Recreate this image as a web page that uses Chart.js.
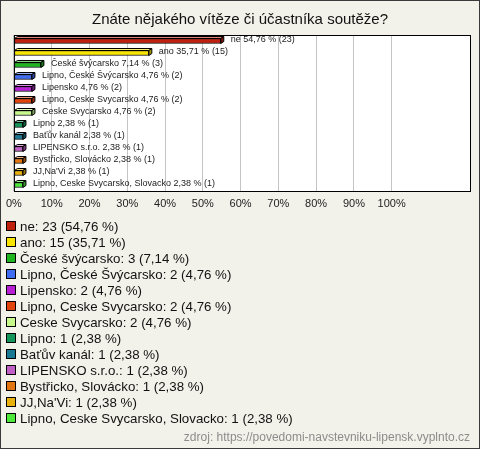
<!DOCTYPE html>
<html>
<head>
<meta charset="utf-8">
<script src="https://cdn.jsdelivr.net/npm/chart.js@4.4.1/dist/chart.umd.min.js"></script>
<style>
    html, body { margin: 0; padding: 0; background: #f3f2ea; }
    #wrap { width: 480px; height: 449px; }
</style>
</head>
<body>
<div id="wrap"><canvas id="chart" width="480" height="449"></canvas></div>
<script>
// data
const titleText = 'Znáte nějakého vítěze či účastníka soutěže?';
const sourceText = 'zdroj: https://povedomi-navstevniku-lipensk.vyplnto.cz';
const categories = [
    'ne', 'ano', 'České švýcarsko', 'Lipno, České Švýcarsko', 'Lipensko',
    'Lipno, Ceske Svycarsko', 'Ceske Svycarsko', 'Lipno', 'Baťův kanál',
    'LIPENSKO s.r.o.', 'Bystřicko, Slovácko', 'JJ,Na\'Vi', 'Lipno, Ceske Svycarsko, Slovacko'
];
const counts = [23, 15, 3, 2, 2, 2, 2, 1, 1, 1, 1, 1, 1];
const percents = [54.76, 35.71, 7.14, 4.76, 4.76, 4.76, 4.76, 2.38, 2.38, 2.38, 2.38, 2.38, 2.38];
const colors = [
    '#c0200e', '#f7e500', '#1fb51f', '#3f6cf0', '#b81fd4', '#e2440c', '#c6f88c',
    '#139659', '#1a7a93', '#c060c6', '#e2750f', '#e8b10e', '#4ce83a'
];
const tickValues = [0, 10, 20, 30, 40, 50, 60, 70, 80, 90, 100];

const FONT = '"Liberation Sans", Arial, sans-serif';
const fmt = v => v.toFixed(2).replace('.', ',');

function shade(hex, f) {
    const n = parseInt(hex.slice(1), 16);
    let r = (n >> 16) & 255, g = (n >> 8) & 255, b = n & 255;
    const t = f > 0 ? 255 : 0, p = Math.abs(f);
    r = Math.round(r + (t - r) * p);
    g = Math.round(g + (t - g) * p);
    b = Math.round(b + (t - b) * p);
    return `rgb(${r},${g},${b})`;
}

// background, frame, title, source and legend
const decor = {
    id: 'decor',
    beforeDraw(chart) {
        const ctx = chart.ctx, a = chart.chartArea;
        ctx.save();
        ctx.fillStyle = '#f3f2ea';
        ctx.fillRect(0, 0, chart.width, chart.height);
        ctx.strokeStyle = '#3a3a3a';
        ctx.lineWidth = 1;
        ctx.strokeRect(0.5, 0.5, chart.width - 1, chart.height - 1);
        ctx.fillStyle = '#ffffff';
        ctx.fillRect(a.left, a.top, a.right - a.left, a.bottom - a.top);
        ctx.restore();
    },
    afterDraw(chart) {
        const ctx = chart.ctx, a = chart.chartArea;
        ctx.save();
        ctx.strokeStyle = '#000';
        ctx.lineWidth = 1;
        ctx.strokeRect(a.left + 0.5, a.top + 0.5, a.right - a.left - 1, a.bottom - a.top);

        ctx.fillStyle = '#111';
        ctx.font = '15px ' + FONT;
        ctx.textAlign = 'center';
        ctx.textBaseline = 'middle';
        ctx.fillText(titleText, chart.width / 2, 20);

        // legend
        ctx.textAlign = 'left';
        ctx.font = '13.3px ' + FONT;
        categories.forEach((c, i) => {
            const y = 226 + i * 16;
            ctx.fillStyle = colors[i];
            ctx.fillRect(7, y - 4, 8, 8);
            ctx.strokeStyle = '#000';
            ctx.strokeRect(6.5, y - 4.5, 9, 9);
            ctx.fillStyle = '#111';
            ctx.fillText(`${c}: ${counts[i]} (${fmt(percents[i])} %)`, 20, y + 1);
        });

        ctx.fillStyle = '#8c8c8c';
        ctx.font = '12px ' + FONT;
        ctx.textAlign = 'right';
        ctx.fillText(sourceText, 470, 438);
        ctx.restore();
    }
};

// 3D look on the bars and value labels
const bars3d = {
    id: 'bars3d',
    afterDatasetsDraw(chart) {
        const ctx = chart.ctx;
        const meta = chart.getDatasetMeta(0);
        ctx.save();
        meta.data.forEach((el, i) => {
            const p = el.getProps(['x', 'y', 'base', 'height'], true);
            const top = p.y - p.height / 2, bot = p.y + p.height / 2;
            const dx = 3, dy = 2;
            ctx.lineWidth = 1;
            ctx.strokeStyle = '#000';
            // top face
            ctx.beginPath();
            ctx.moveTo(p.base, top);
            ctx.lineTo(p.base + dx, top - dy);
            ctx.lineTo(p.x + dx, top - dy);
            ctx.lineTo(p.x, top);
            ctx.closePath();
            ctx.fillStyle = shade(colors[i], 0.45);
            ctx.fill();
            ctx.stroke();
            // side face
            ctx.beginPath();
            ctx.moveTo(p.x, top);
            ctx.lineTo(p.x + dx, top - dy);
            ctx.lineTo(p.x + dx, bot - dy);
            ctx.lineTo(p.x, bot);
            ctx.closePath();
            ctx.fillStyle = shade(colors[i], -0.35);
            ctx.fill();
            ctx.stroke();

            ctx.fillStyle = '#222';
            ctx.font = '9px ' + FONT;
            ctx.textAlign = 'left';
            ctx.textBaseline = 'middle';
            ctx.fillText(`${categories[i]} ${fmt(percents[i])} % (${counts[i]})`, p.x + dx + 7, p.y - 1);
        });
        ctx.restore();
    }
};

const ctx = document.getElementById('chart').getContext('2d');
const chart = new Chart(ctx, {
    type: 'bar',
    data: {
        labels: categories,
        datasets: [{
            data: percents,
            backgroundColor: colors,
            borderColor: '#000',
            borderWidth: 1,
            borderSkipped: false,
            barThickness: 5
        }]
    },
    options: {
        indexAxis: 'y',
        responsive: false,
        animation: false,
        layout: { padding: { left: 11, right: 9, top: 35, bottom: 238 } },
        plugins: {
            legend: { display: false },
            tooltip: { enabled: false }
        },
        scales: {
            x: {
                min: 0,
                max: 121,
                afterBuildTicks: s => { s.ticks = tickValues.map(v => ({ value: v })); },
                afterFit: s => { s.height = 20; },
                border: { display: false },
                grid: { color: '#c4c4c4', drawTicks: false },
                ticks: {
                    padding: 6,
                    color: '#222',
                    font: { size: 11, family: FONT },
                    callback: v => v + '%'
                }
            },
            y: { display: false }
        }
    },
    plugins: [decor, bars3d]
});
</script>
</body>
</html>
